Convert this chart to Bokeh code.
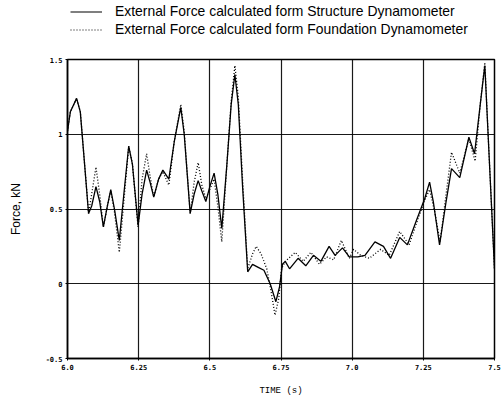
from bokeh.plotting import figure
from bokeh.layouts import column
from bokeh.models import FixedTicker, Legend, LegendItem, Range1d, ColumnDataSource
from bokeh.embed import file_html
from bokeh.resources import INLINE

# Structure dynamometer (solid)
t_struct = [6.000, 6.010, 6.032, 6.045, 6.060, 6.074, 6.085, 6.100, 6.113, 6.126,
            6.140, 6.152, 6.165, 6.182, 6.198, 6.215, 6.228, 6.248, 6.262, 6.278,
            6.290, 6.303, 6.320, 6.335, 6.356, 6.375, 6.398, 6.410, 6.431, 6.445,
            6.459, 6.472, 6.486, 6.500, 6.515, 6.528, 6.542, 6.560, 6.575, 6.588,
            6.600, 6.615, 6.633, 6.650, 6.670, 6.690, 6.712, 6.732, 6.745, 6.755,
            6.765, 6.780, 6.810, 6.837, 6.864, 6.890, 6.919, 6.940, 6.966, 6.990,
            7.020, 7.045, 7.080, 7.110, 7.135, 7.167, 7.194, 7.225, 7.255, 7.272,
            7.285, 7.307, 7.330, 7.349, 7.378, 7.410, 7.430, 7.450, 7.466, 7.480,
            7.500]
f_struct = [1.02, 1.15, 1.24, 1.15, 0.80, 0.47, 0.52, 0.65, 0.55, 0.38,
            0.52, 0.63, 0.50, 0.29, 0.60, 0.92, 0.80, 0.39, 0.60, 0.76,
            0.68, 0.58, 0.70, 0.76, 0.70, 0.95, 1.18, 1.00, 0.47, 0.60,
            0.69, 0.62, 0.55, 0.65, 0.74, 0.60, 0.37, 0.80, 1.20, 1.40,
            1.20, 0.65, 0.08, 0.13, 0.11, 0.09, 0.00, -0.12, -0.02, 0.13,
            0.15, 0.10, 0.17, 0.12, 0.19, 0.15, 0.25, 0.19, 0.24, 0.18,
            0.18, 0.19, 0.28, 0.25, 0.17, 0.31, 0.26, 0.42, 0.57, 0.68,
            0.55, 0.26, 0.55, 0.77, 0.71, 0.98, 0.87, 1.20, 1.46, 0.90,
            0.10]

# Foundation dynamometer (dotted)
t_found = [6.000, 6.010, 6.032, 6.045, 6.060, 6.074, 6.085, 6.100, 6.113, 6.126,
           6.140, 6.152, 6.165, 6.182, 6.198, 6.215, 6.228, 6.248, 6.262, 6.278,
           6.290, 6.303, 6.320, 6.335, 6.356, 6.375, 6.398, 6.410, 6.431, 6.445,
           6.459, 6.472, 6.486, 6.500, 6.515, 6.528, 6.542, 6.560, 6.575, 6.588,
           6.600, 6.615, 6.633, 6.650, 6.663, 6.680, 6.700, 6.715, 6.729, 6.742,
           6.752, 6.765, 6.800, 6.828, 6.855, 6.885, 6.910, 6.935, 6.962, 6.990,
           7.005, 7.030, 7.060, 7.100, 7.130, 7.167, 7.200, 7.225, 7.255, 7.272,
           7.290, 7.309, 7.330, 7.349, 7.378, 7.410, 7.432, 7.450, 7.466, 7.480,
           7.500]
f_found = [1.02, 1.15, 1.24, 1.15, 0.80, 0.47, 0.60, 0.78, 0.60, 0.38,
           0.52, 0.62, 0.48, 0.21, 0.55, 0.92, 0.80, 0.38, 0.70, 0.87,
           0.72, 0.58, 0.70, 0.75, 0.66, 0.95, 1.20, 1.02, 0.47, 0.68,
           0.81, 0.66, 0.57, 0.63, 0.70, 0.52, 0.28, 0.80, 1.22, 1.46,
           1.25, 0.70, 0.10, 0.20, 0.25, 0.20, 0.10, -0.05, -0.21, -0.10,
           0.10, 0.15, 0.21, 0.15, 0.21, 0.13, 0.18, 0.16, 0.29, 0.17,
           0.23, 0.19, 0.17, 0.23, 0.19, 0.35, 0.26, 0.40, 0.56, 0.63,
           0.48, 0.28, 0.60, 0.88, 0.74, 0.97, 0.82, 1.20, 1.48, 0.90,
           0.10]

x_ticks = [6.0, 6.25, 6.5, 6.75, 7.0, 7.25, 7.5]
x_tick_labels = ["6.0", "6.25", "6.5", "6.75", "7.0", "7.25", "7.5"]
y_ticks = [-0.5, 0, 0.5, 1, 1.5]
y_tick_labels = ["-0.5", "0", "0.5", "1", "1.5"]

label_struct = "External Force calculated form Structure Dynamometer"
label_found = "External Force calculated form Foundation Dynamometer"

src_struct = ColumnDataSource(data=dict(t=t_struct, f=f_struct))
src_found = ColumnDataSource(data=dict(t=t_found, f=f_found))

TOP_H = 42

# ---- legend strip (its own view range keeps the series out of sight; only the key shows) ----
top = figure(width=502, height=TOP_H, output_backend="svg", toolbar_location=None,
             x_range=Range1d(0, 1), y_range=Range1d(0, 1), min_border=0)
top.axis.visible = False
top.grid.visible = False
top.outline_line_color = None
top.background_fill_color = "white"
top.border_fill_color = "white"
s1 = top.line("t", "f", source=src_struct, line_color="black", line_width=1.2)
s2 = top.line("t", "f", source=src_found, line_color="black", line_width=1.2, line_dash="1 2")
legend = Legend(items=[LegendItem(label=label_struct, renderers=[s1]),
                       LegendItem(label=label_found, renderers=[s2])],
                location=(3, 5))
legend.background_fill_alpha = 0
legend.border_line_color = None
legend.padding = 0
legend.margin = 0
legend.spacing = 2
legend.glyph_width = 32
legend.glyph_height = 15
legend.label_standoff = 13
legend.label_height = 15
legend.label_text_font = "Liberation Sans"
legend.label_text_font_size = "13.9px"
legend.label_text_color = "black"
top.add_layout(legend, "center")

# ---- main chart ----
p = figure(width=502, height=398 - TOP_H, output_backend="svg", toolbar_location=None,
           x_range=Range1d(6.0, 7.5), y_range=Range1d(-0.5, 1.5),
           min_border_left=67, min_border_right=8, min_border_top=59 - TOP_H,
           min_border_bottom=39,
           x_axis_label="TIME (s)", y_axis_label="Force, kN")
p.background_fill_color = "white"
p.border_fill_color = "white"
p.outline_line_color = "black"
p.outline_line_width = 1.5

for ax in (p.xaxis[0], p.yaxis[0]):
    ax.axis_line_color = "black"
    ax.axis_line_width = 1.5
    ax.major_tick_in = 0
    ax.major_tick_out = 2
    ax.minor_tick_line_color = None
    ax.major_label_text_font = "DejaVu Sans Mono"
    ax.major_label_text_font_style = "bold"
    ax.major_label_text_font_size = "7px"
    ax.major_label_text_color = "black"
    ax.axis_label_text_color = "black"

p.xaxis[0].ticker = FixedTicker(ticks=x_ticks)
p.xaxis[0].major_label_overrides = dict(zip(x_ticks, x_tick_labels))
p.yaxis[0].ticker = FixedTicker(ticks=y_ticks)
p.yaxis[0].major_label_overrides = {float(k): v for k, v in zip(y_ticks, y_tick_labels)}
p.xaxis[0].major_label_standoff = 3
p.yaxis[0].major_label_standoff = 3

p.xaxis[0].axis_label_text_font = "Liberation Mono"
p.xaxis[0].axis_label_text_font_size = "9px"
p.xaxis[0].axis_label_text_font_style = "normal"
p.xaxis[0].axis_label_standoff = 13
p.yaxis[0].axis_label_text_font = "Liberation Sans"
p.yaxis[0].axis_label_text_font_size = "12px"
p.yaxis[0].axis_label_text_font_style = "normal"
p.yaxis[0].axis_label_standoff = 20

p.xgrid.grid_line_color = "black"
p.xgrid.grid_line_width = 1.2
p.xgrid.grid_line_alpha = 0.9
p.ygrid.grid_line_color = "black"
p.ygrid.grid_line_width = 1.2
p.ygrid.grid_line_alpha = 0.9

p.line("t", "f", source=src_struct, line_color="black", line_width=1.3)
p.line("t", "f", source=src_found, line_color="black", line_width=1.3, line_dash="1 2")

layout = column(top, p, spacing=0)
open("out.html", "w").write(file_html(layout, INLINE))
